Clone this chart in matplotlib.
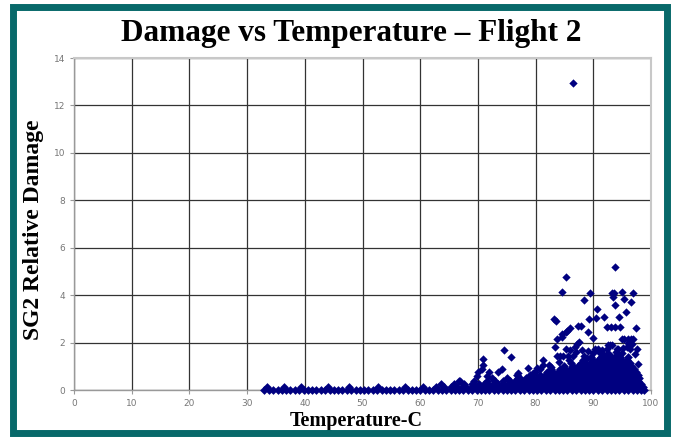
import matplotlib
matplotlib.use("Agg")
import matplotlib.pyplot as plt
from matplotlib.patches import Rectangle

# %%
# Data (temperature in C, relative damage)
# dense band of points, one list of temperatures per damage level
band_levels = [0.02, 0.12, 0.24, 0.37, 0.50, 0.63, 0.76, 0.89, 1.02, 1.15, 1.28, 1.41]
band_temps = [
    [33.0, 33.8, 34.5, 35.3, 36.0, 36.8, 37.5, 38.3, 39.0, 39.8, 40.5, 41.3, 42.0, 42.8,
     43.5, 44.3, 45.0, 45.8, 46.5, 47.3, 48.0, 48.8, 49.5, 50.3, 51.0, 51.8, 52.5, 53.3,
     54.0, 54.8, 55.5, 56.3, 57.0, 57.8, 58.5, 59.3, 60.0, 60.8, 61.5, 62.3, 63.0, 63.8,
     64.5, 65.3, 66.0, 66.8, 67.5, 68.3, 69.0, 69.8, 70.5, 71.3, 72.0, 72.8, 73.5, 74.3,
     75.0, 75.8, 76.5, 77.3, 78.0, 78.8, 79.5, 80.3, 81.0, 81.8, 82.5, 83.3, 84.0, 84.8,
     85.5, 86.3, 87.0, 87.8, 88.5, 89.3, 90.0, 90.8, 91.5, 92.3, 93.0, 93.8, 94.5, 95.3,
     96.0, 96.8, 97.5, 98.3, 98.8],
    [33.4, 36.4, 39.4, 44.1, 47.7, 52.6, 57.4, 60.4, 62.7, 64.2, 65.4, 66.4, 67.2, 68.0,
     68.9, 69.7, 70.6, 71.4, 72.3, 73.1, 74.0, 74.8, 75.7, 76.5, 77.4, 78.2, 79.1, 79.9,
     80.8, 81.6, 82.5, 83.3, 84.2, 85.0, 85.9, 86.7, 87.6, 88.4, 89.3, 90.1, 91.0, 91.8,
     92.7, 93.5, 94.4, 95.2, 96.1, 96.9, 97.8, 98.6],
    [63.6, 65.9, 67.6, 68.9, 70.2, 71.0, 71.8, 72.7, 73.5, 74.4, 75.2, 76.1, 76.9, 77.8,
     78.6, 79.5, 80.3, 81.2, 82.0, 82.9, 83.7, 84.6, 85.4, 86.3, 87.1, 88.0, 88.8, 89.7,
     90.5, 91.4, 92.2, 93.1, 93.9, 94.8, 95.6, 96.5, 97.3, 98.2],
    [66.8, 69.4, 71.5, 73.0, 74.3, 75.5, 76.5, 77.4, 78.2, 79.1, 79.9, 80.8, 81.6, 82.5,
     83.3, 84.2, 85.0, 85.9, 86.7, 87.6, 88.4, 89.3, 90.1, 91.0, 91.8, 92.7, 93.5, 94.4,
     95.2, 96.1, 96.9, 97.8],
    [72.4, 75.0, 77.0, 78.4, 79.5, 80.3, 81.2, 82.0, 82.9, 83.7, 84.6, 85.4, 86.3, 87.1,
     88.0, 88.8, 89.7, 90.5, 91.4, 92.2, 93.1, 93.9, 94.8, 95.6, 96.5, 97.3, 98.0],
    [76.8, 79.0, 80.7, 81.6, 82.4, 83.3, 84.1, 85.0, 85.8, 86.7, 87.5, 88.4, 89.2, 90.1,
     90.9, 91.8, 92.6, 93.5, 94.3, 95.2, 96.0, 96.9, 97.7],
    [79.9, 81.9, 83.0, 83.8, 84.7, 85.5, 86.4, 87.2, 88.1, 88.9, 89.8, 90.6, 91.5, 92.3,
     93.2, 94.0, 94.9, 95.7, 96.6, 97.4],
    [82.6, 84.3, 85.1, 86.0, 86.8, 87.7, 88.5, 89.4, 90.2, 91.1, 91.9, 92.8, 93.6, 94.5,
     95.3, 96.2, 97.0],
    [84.9, 86.5, 87.3, 88.1, 89.0, 89.8, 90.7, 91.5, 92.4, 93.2, 94.1, 94.9, 95.8, 96.6],
    [86.2, 87.8, 88.6, 89.5, 90.3, 91.2, 92.0, 92.9, 93.7, 94.6, 95.4, 96.3],
    [88.3, 89.9, 90.8, 91.6, 92.5, 93.3, 94.2, 95.0, 95.9],
    [89.6, 91.3, 92.0, 93.0, 93.8, 94.7, 96.1],
]

# scattered points above the band
temp_pts = [86.4, 93.8, 85.3, 84.6, 89.4, 93.2, 93.6, 95.0, 96.9, 88.4, 93.5, 95.3,
            96.5, 93.8, 90.6, 95.7, 83.2, 83.5, 89.3, 90.4, 91.8, 94.5, 85.5, 86.0,
            87.4, 87.8, 89.0, 92.3, 93.0, 93.8, 94.6, 97.4, 83.7, 84.6, 84.6, 85.2,
            89.9, 94.9, 95.4, 96.0, 96.5, 96.8, 92.5, 92.9, 93.3, 90.3, 90.9, 74.5,
            75.7, 70.9, 70.9, 70.7, 70.1, 69.8, 66.9, 72.0, 73.4, 74.1, 71.5, 77.0,
            77.3, 78.7, 80.8, 81.2, 81.2, 80.3, 83.4, 83.7, 84.2, 84.8, 85.7, 86.5,
            86.9, 87.2, 87.6, 85.3, 86.0, 88.4, 88.9, 91.5, 91.7, 92.3, 94.1, 94.3,
            95.2, 95.8, 96.4, 97.5, 93.2, 94.1, 94.6, 96.7, 96.1, 82.3, 84.0, 87.0,
            89.0, 91.0, 92.6, 95.0, 97.2, 97.8, 79.6, 82.6, 85.8, 88.1, 90.0, 93.9]
damage_pts = [12.94, 5.20, 4.78, 4.13, 4.10, 4.10, 4.10, 4.13, 4.08, 3.80, 3.94, 3.83,
              3.71, 3.57, 3.40, 3.29, 3.00, 2.91, 3.01, 3.05, 3.09, 3.07, 2.50, 2.63,
              2.70, 2.70, 2.46, 2.65, 2.65, 2.65, 2.65, 2.63, 2.14, 2.36, 2.25, 2.45,
              2.18, 2.16, 2.16, 2.16, 2.16, 2.16, 1.90, 1.90, 1.90, 1.73, 1.72, 1.69,
              1.38, 1.29, 1.05, 0.87, 0.77, 0.60, 0.39, 0.77, 0.75, 0.89, 0.59, 0.73,
              0.50, 0.91, 0.89, 1.27, 1.06, 0.94, 1.80, 1.43, 1.43, 1.43, 1.43, 1.43,
              1.83, 1.94, 2.04, 1.73, 1.69, 1.43, 1.34, 1.69, 1.52, 1.72, 1.75, 1.72,
              1.78, 1.80, 1.72, 1.75, 1.41, 1.48, 1.34, 1.94, 2.00, 1.05, 1.20, 1.60,
              1.65, 1.62, 1.58, 1.55, 1.50, 1.10, 0.70, 0.95, 1.25, 1.70, 1.55, 1.60]

# %%
fig = plt.figure(figsize=(6.76, 4.42), dpi=100)
ax = fig.add_axes([0.1095, 0.1176, 0.8535, 0.7511])

for lev, temps in zip(band_levels, band_temps):
    ax.scatter(temps, [lev] * len(temps), marker='D', s=20, color='#000080',
               linewidths=0, zorder=3, clip_on=False)
ax.scatter(temp_pts, damage_pts, marker='D', s=18, color='#000080', linewidths=0,
           zorder=3, clip_on=False)

ax.set_xlim(0, 100)
ax.set_ylim(0, 14)
ax.set_xticks(range(0, 101, 10))
ax.set_yticks(range(0, 15, 2))
ax.grid(True, color='#333333', linewidth=0.9)
ax.set_axisbelow(True)
ax.tick_params(labelsize=6.5, labelcolor='#777777', color='#999999', length=3, width=0.8)
for side in ['left', 'bottom']:
    ax.spines[side].set_color('#999999')
    ax.spines[side].set_linewidth(1.0)
for side in ['top', 'right']:
    ax.spines[side].set_color('#c8c8c8')
    ax.spines[side].set_linewidth(1.5)

fig.text(0.52, 0.925, "Damage vs Temperature \u2013 Flight 2", ha='center', va='center',
         fontsize=22.5, fontweight='bold', family='Liberation Serif')
fig.text(0.049, 0.48, "SG2 Relative Damage", ha='center', va='center', rotation=90,
         fontsize=17, fontweight='bold', family='Liberation Serif')
fig.text(0.527, 0.048, "Temperature-C", ha='center', va='center',
         fontsize=14.5, fontweight='bold', family='Liberation Serif')

# teal frame round the whole picture
fig.patches.append(Rectangle((12.5 / 676, 9.5 / 442), 654 / 676, 426 / 442,
                             transform=fig.transFigure, fill=False,
                             edgecolor='#08696a', linewidth=5.0, zorder=10))

fig.savefig("out.png", dpi=100)
